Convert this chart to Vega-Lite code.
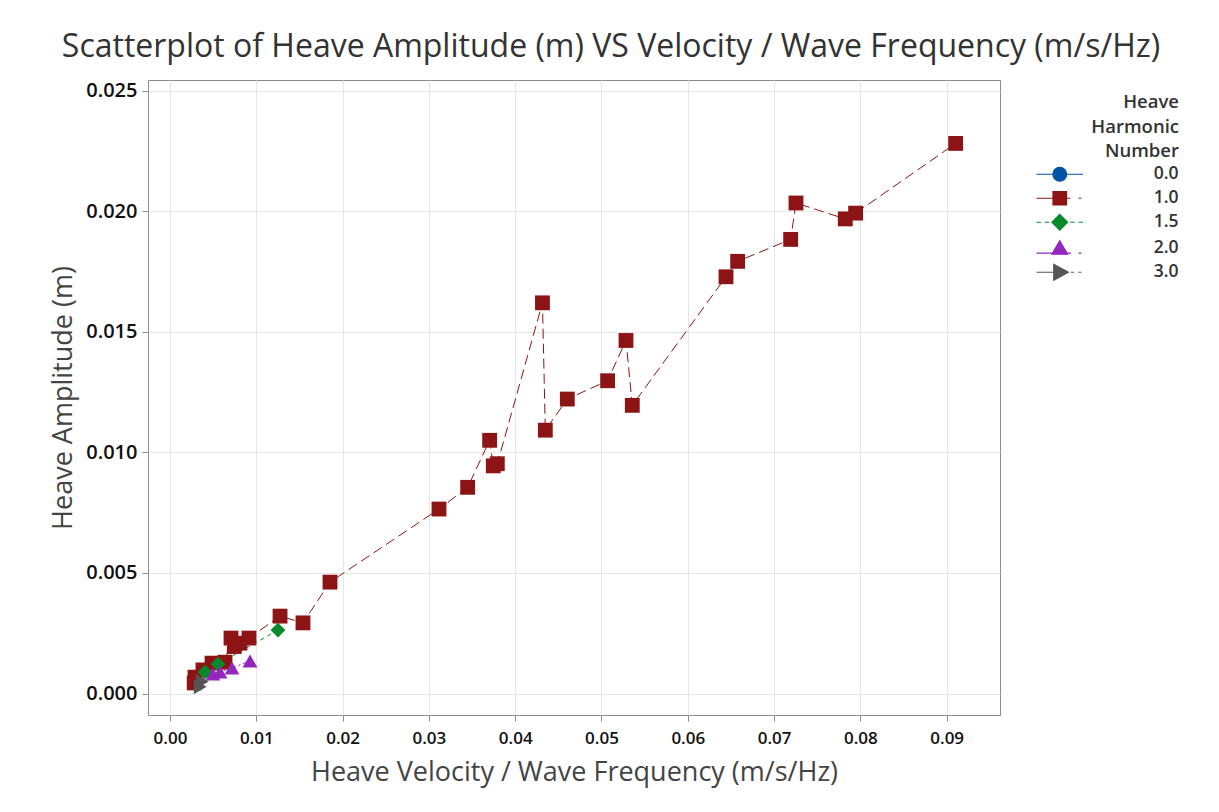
{
  "$schema": "https://vega.github.io/schema/vega-lite/v6.json",
  "autosize": {"type": "none"},
  "width": 852,
  "height": 635,
  "padding": {"left": 148, "top": 80, "right": 219, "bottom": 97},
  "background": "white",
  "title": {
    "text": "Scatterplot of Heave Amplitude (m) VS Velocity / Wave Frequency (m/s/Hz)",
    "font": "Open Sans",
    "fontSize": 32,
    "fontWeight": 400,
    "color": "#333333",
    "anchor": "middle",
    "dx": 37,
    "offset": 16
  },
  "config": {
    "view": {"stroke": "#8c8c8c", "strokeWidth": 1},
    "axis": {
      "labelFont": "Open Sans",
      "labelFontWeight": 600,
      "labelFontSize": 18,
      "labelColor": "#111111",
      "titleFont": "Open Sans",
      "titleFontWeight": 400,
      "titleFontSize": 27,
      "titleColor": "#444444",
      "domain": false,
      "tickColor": "#8c8c8c",
      "tickSize": 6,
      "gridColor": "#e6e6e6",
      "gridWidth": 1
    }
  },
  "data": {
    "values": [
      {"h": "1.0", "vx": 0.09104, "amp": 0.02281},
      {"h": "1.0", "vx": 0.07945, "amp": 0.01992},
      {"h": "1.0", "vx": 0.07825, "amp": 0.01968},
      {"h": "1.0", "vx": 0.07254, "amp": 0.02034},
      {"h": "1.0", "vx": 0.07192, "amp": 0.01883},
      {"h": "1.0", "vx": 0.06578, "amp": 0.01792},
      {"h": "1.0", "vx": 0.06443, "amp": 0.01728},
      {"h": "1.0", "vx": 0.05357, "amp": 0.01195},
      {"h": "1.0", "vx": 0.05284, "amp": 0.01464},
      {"h": "1.0", "vx": 0.05071, "amp": 0.01297},
      {"h": "1.0", "vx": 0.04604, "amp": 0.01221},
      {"h": "1.0", "vx": 0.04349, "amp": 0.01092},
      {"h": "1.0", "vx": 0.04316, "amp": 0.0162},
      {"h": "1.0", "vx": 0.03793, "amp": 0.00953},
      {"h": "1.0", "vx": 0.03746, "amp": 0.00944},
      {"h": "1.0", "vx": 0.03704, "amp": 0.0105},
      {"h": "1.0", "vx": 0.03449, "amp": 0.00855},
      {"h": "1.0", "vx": 0.03117, "amp": 0.00765},
      {"h": "1.0", "vx": 0.01854, "amp": 0.00462},
      {"h": "1.0", "vx": 0.01541, "amp": 0.00293},
      {"h": "1.0", "vx": 0.01275, "amp": 0.00321},
      {"h": "1.0", "vx": 0.00915, "amp": 0.0023},
      {"h": "1.0", "vx": 0.00811, "amp": 0.00209},
      {"h": "1.0", "vx": 0.00745, "amp": 0.00195},
      {"h": "1.0", "vx": 0.00707, "amp": 0.0023},
      {"h": "1.0", "vx": 0.00637, "amp": 0.0013},
      {"h": "1.0", "vx": 0.00487, "amp": 0.00126},
      {"h": "1.0", "vx": 0.00382, "amp": 0.00098},
      {"h": "1.0", "vx": 0.0029, "amp": 0.00068},
      {"h": "1.0", "vx": 0.0028, "amp": 0.00044},
      {"h": "1.5", "vx": 0.01251, "amp": 0.00263},
      {"h": "1.5", "vx": 0.00556, "amp": 0.00122},
      {"h": "1.5", "vx": 0.00406, "amp": 0.00089},
      {"h": "2.0", "vx": 0.00927, "amp": 0.00135},
      {"h": "2.0", "vx": 0.00718, "amp": 0.00106},
      {"h": "2.0", "vx": 0.00579, "amp": 0.00089},
      {"h": "2.0", "vx": 0.00498, "amp": 0.00081},
      {"h": "3.0", "vx": 0.00375, "amp": 0.0005},
      {"h": "3.0", "vx": 0.0035, "amp": 0.00028}
    ]
  },
  "encoding": {
    "x": {
      "field": "vx",
      "type": "quantitative",
      "title": "Heave Velocity / Wave Frequency (m/s/Hz)",
      "scale": {"domain": [-0.00255, 0.09618], "nice": false, "zero": false},
      "axis": {"values": [0, 0.01, 0.02, 0.03, 0.04, 0.05, 0.06, 0.07, 0.08, 0.09], "format": ".2f", "labelFontSize": 17, "labelPadding": 9, "titlePadding": 13}
    },
    "y": {
      "field": "amp",
      "type": "quantitative",
      "title": "Heave Amplitude (m)",
      "scale": {"domain": [-0.00089, 0.02544], "nice": false, "zero": false},
      "axis": {"values": [0, 0.005, 0.01, 0.015, 0.02, 0.025], "format": ".3f", "labelFontSize": 20, "labelPadding": 5, "titlePadding": 8}
    },
    "color": {
      "field": "h",
      "type": "nominal",
      "scale": {
        "domain": ["0.0", "1.0", "1.5", "2.0", "3.0"],
        "range": ["#0054a8", "#8c1414", "#078a2a", "#9326bd", "#555555"]
      },
      "legend": {
        "title": ["Heave", "Harmonic", "Number"],
        "orient": "none",
        "legendX": 903,
        "legendY": 13,
        "padding": 0,
        "titleFont": "Open Sans",
        "titleFontWeight": 600,
        "titleFontSize": 18.5,
        "titleColor": "#333333",
        "titleAnchor": "end",
        "titleAlign": "right",
        "titleLineHeight": 24.5,
        "titlePadding": 5,
        "labelFont": "Open Sans",
        "labelFontWeight": 600,
        "labelFontSize": 17.5,
        "labelColor": "#333333",
        "labelAlign": "right",
        "labelOffset": 110,
        "symbolSize": 225,
        "rowPadding": 4,
        "encode": {
          "symbols": {
            "update": {
              "shape": {"signal": "datum.value === '0.0' ? 'M-0.92,0A0.92,0.92,0,1,0,0.92,0A0.92,0.92,0,1,0,-0.92,0Z M-3.1,0H3.1' : datum.value === '1.0' ? 'M-0.9,-0.9H0.9V0.9H-0.9Z M-3.1,0H-0.9 M0.9,0H1.4 M2.5,0H2.9' : datum.value === '1.5' ? 'M0,-1.05L1.05,0L0,1.05L-1.05,0Z M-3.1,0H-2.5 M-2.0,0H-1.4 M1.4,0H2.0 M2.5,0H3.1' : datum.value === '2.0' ? 'M0,-1.0L1.05,0.8H-1.05Z M-3.1,0.65H-1 M1,0.65H1.5 M2.5,0.65H2.9' : 'M-0.8,-1.05L1.15,0L-0.8,1.05Z M-3.1,0H-0.8 M1.5,0H1.9 M2.5,0H2.9'"},
              "fill": {"signal": "scale('color', datum.value)"},
              "stroke": {"signal": "scale('color', datum.value)"},
              "strokeWidth": {"value": 1.2},
              "opacity": {"value": 1}
            }
          }
        }
      }
    }
  },
  "layer": [
    {
      "mark": {"type": "line", "strokeWidth": 1},
      "encoding": {
        "strokeDash": {
          "field": "h",
          "type": "nominal",
          "scale": {
            "domain": ["3.0", "2.0", "1.5", "1.0", "0.0"],
            "range": [[3, 3], [8, 3, 2, 3], [4, 4], [10, 5], [1, 0]]
          },
          "legend": null
        }
      }
    },
    {
      "mark": {"type": "point", "filled": true, "opacity": 1, "strokeWidth": 0},
      "encoding": {
        "shape": {
          "field": "h",
          "type": "nominal",
          "scale": {
            "domain": ["1.0", "0.0", "1.5", "2.0", "3.0"],
            "range": ["square", "circle", "diamond", "triangle-up", "triangle-right"]
          },
          "legend": null
        },
        "size": {"value": 220}
      }
    }
  ]
}
